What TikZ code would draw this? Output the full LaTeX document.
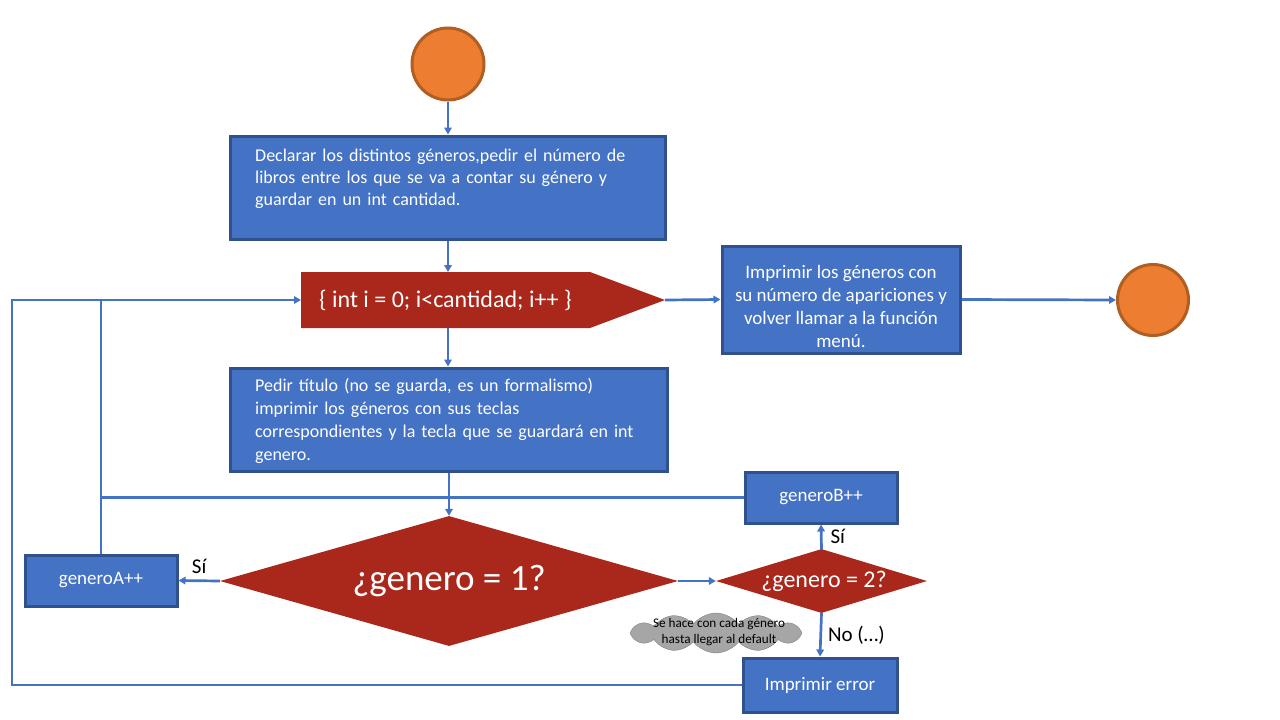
\documentclass[tikz,border=0pt]{standalone}
\usepackage{fontspec}
\setmainfont{Carlito}
\usetikzlibrary{arrows.meta,shapes.geometric,shapes.symbols}
\definecolor{bfill}{HTML}{4472C4}
\definecolor{bdraw}{HTML}{2F528F}
\definecolor{rfill}{HTML}{A9271B}
\definecolor{ofill}{HTML}{ED7D31}
\definecolor{odraw}{HTML}{B05E22}
\definecolor{cfill}{HTML}{A6A6A6}
\definecolor{cdraw}{HTML}{808080}
\definecolor{lineblue}{HTML}{4472C4}
\begin{document}
\begin{tikzpicture}[x=1pt,y=-1pt,
 blk/.style={draw=bdraw, fill=bfill, line width=3pt, inner sep=0pt, text=white},
 term/.style={circle, draw=odraw, fill=ofill, line width=3pt, minimum size=72pt, inner sep=0pt},
 dec/.style={diamond, fill=rfill, inner sep=0pt, text=white},
 conn/.style={draw=lineblue, line width=2.7pt, -{Triangle[length=7pt,width=7.5pt]}},
 wire/.style={draw=lineblue, line width=2.7pt},
 lbl/.style={font=\fontsize{21}{24}\selectfont, text=black, inner sep=0pt},
 btxt/.style={text=white, font=\fontsize{18}{22}\selectfont, inner sep=0pt}
]
\useasboundingbox (0,0) rectangle (1280,720);

% start / end
\node[term] (start) at (448,64) {};
\node[term, minimum size=71pt] (end) at (1153,300) {};

% first box
\node[blk, minimum width=435pt, minimum height=103pt] (decl) at (447.5,187.5) {};
\node[btxt, anchor=north west, text width=425pt, align=left] (decltxt) at (255,149)
 {Declarar los distintos géneros,pedir el número de\\ libros entre los que se va a contar su género y\\ guardar en un int cantidad.};

% loop (pentagon)
\fill[rfill] (301,272) -- (590,272) -- (665,300) -- (590,328) -- (301,328) -- cycle;
\coordinate (loopN) at (448,272);
\coordinate (loopS) at (448,328);
\coordinate (loopW) at (301,300);
\coordinate (loopE) at (665,300);
\node[btxt, font=\fontsize{24}{26}\selectfont, anchor=west] (looptxt) at (319,300)
 {\{ int i = 0; i<cantidad; i++ \}};

% print box
\node[blk, minimum width=238pt, minimum height=107pt] (print) at (841,299.5) {};
\node[btxt, align=center, font=\fontsize{19}{23}\selectfont] (printtxt) at (841,306)
 {Imprimir los géneros con\\ su número de apariciones y\\ volver llamar a la función\\ menú.};

% ask box
\node[blk, minimum width=437pt, minimum height=103pt] (ask) at (448.5,419.5) {};
\node[btxt, anchor=north west, text width=425pt, align=left, font=\fontsize{18}{23}\selectfont] (asktxt) at (255,378)
 {Pedir título (no se guarda, es un formalismo)\\ imprimir los géneros con sus teclas\\ correspondientes y la tecla que se guardará en int\\ genero.};

% decisions
\node[dec, aspect=3.52, minimum width=458pt, minimum height=130pt, font=\fontsize{37}{42}\selectfont] (d1) at (449,581) {¿genero = 1?};
\node[dec, aspect=3.3, minimum width=211pt, minimum height=64pt] (d2) at (821.5,581) {};
\node[text=white, inner sep=0pt, font=\fontsize{24}{28}\selectfont] (d2txt) at (824,581) {¿genero = 2?};

% small boxes
\node[blk, minimum width=152pt, minimum height=51pt, font=\fontsize{19}{22}\selectfont] (ga) at (101,580.5) {generoA++};
\node[blk, minimum width=152pt, minimum height=51pt, font=\fontsize{19}{22}\selectfont] (gb) at (821,497.5) {generoB++};
\node[blk, minimum width=154pt, minimum height=54pt, font=\fontsize{19}{22}\selectfont] (err) at (820,685) {Imprimir error};

% cloud note
\node[cloud, cloud puffs=12, cloud puff arc=105, aspect=4.2, draw=cdraw, fill=cfill, minimum width=172pt, minimum height=40pt, inner sep=0pt] (note) at (716,633) {};
\node[align=center, inner sep=0pt, font=\fontsize{13.2}{15.5}\selectfont] (notetxt) at (719,632)
 {Se hace con cada género\\ hasta llegar al default};

% connectors
\coordinate (lft) at (12,685);
\draw[conn] (start.south) -- (start.south |- decl.north);
\draw[conn] (decl.south -| loopN) -- (loopN);
\draw[conn] (loopE) -- (print.west);
\draw[conn] (print.east) -- (end.west);
\draw[conn] (loopS) -- (loopS |- ask.north);
\draw[conn] (ask.south -| d1.north) -- (d1.north);
\draw[wire] (gb.west) -| (ga.north);
\draw[wire] (ga.north) -- (ga.north |- loopW);
\draw[conn] (err.west) -- (lft) |- (loopW);
\draw[conn] (d1.west) -- (ga.east) node[lbl, midway, above=6pt] {Sí};
\draw[conn] (d1.east) -- (d2.west);
\draw[conn] (d2.north) -- (gb.south) node[lbl, midway, right=8pt] {Sí};
\draw[conn] (d2.south) -- (err.north) node[lbl, midway, right=6pt] {No (…)};
\end{tikzpicture}
\end{document}
